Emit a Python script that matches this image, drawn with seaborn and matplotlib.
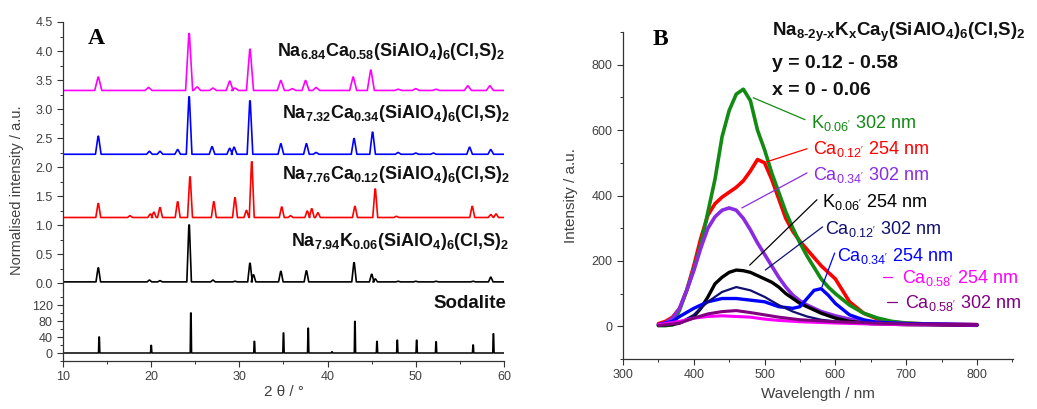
import numpy as np
import pandas as pd
import matplotlib
matplotlib.use("Agg")
import matplotlib.pyplot as plt
import seaborn as sns
from matplotlib.ticker import MultipleLocator

# ---------------- data: XRD (panel A) ----------------
two_theta_range = [10, 60]

mag_pos = [14.0, 19.7, 24.3, 25.2, 27.0, 28.9, 29.5, 31.2, 34.7, 36.0, 37.5, 38.7, 42.9, 44.9, 48.0, 50.0, 52.3, 55.9, 58.4]
mag_top = [3.55, 3.37, 4.30, 3.38, 3.36, 3.48, 3.36, 4.03, 3.49, 3.35, 3.49, 3.37, 3.55, 3.67, 3.34, 3.35, 3.34, 3.40, 3.40]
mag_base = 3.32

blu_pos = [14.0, 19.8, 21.0, 23.0, 24.3, 26.9, 28.9, 29.4, 31.2, 34.7, 37.6, 38.7, 43.0, 45.1, 48.0, 50.0, 52.0, 56.1, 58.5]
blu_top = [2.53, 2.27, 2.27, 2.30, 3.21, 2.35, 2.32, 2.34, 3.14, 2.40, 2.40, 2.25, 2.49, 2.60, 2.25, 2.24, 2.24, 2.34, 2.30]
blu_base = 2.22

red_pos = [14.0, 17.6, 19.9, 20.3, 21.0, 23.0, 24.4, 27.1, 29.5, 30.8, 31.4, 34.8, 35.8, 37.7, 38.2, 38.9, 43.1, 45.4, 47.8, 56.4, 58.5, 59.1]
red_top = [1.37, 1.16, 1.19, 1.22, 1.30, 1.40, 1.83, 1.40, 1.47, 1.25, 2.09, 1.31, 1.16, 1.24, 1.28, 1.21, 1.32, 1.62, 1.15, 1.32, 1.18, 1.19]
red_base = 1.13

blk_pos = [14.0, 19.8, 21.0, 24.3, 27.0, 29.5, 31.2, 31.6, 34.7, 37.6, 43.0, 45.0, 45.4, 48.0, 50.0, 52.3, 56.5, 58.5]
blk_top = [0.26, 0.05, 0.04, 1.00, 0.05, 0.03, 0.34, 0.14, 0.20, 0.21, 0.35, 0.15, 0.07, 0.03, 0.03, 0.03, 0.03, 0.10]
blk_base = 0.02

sod_pos = [14.1, 20.0, 24.5, 31.7, 35.0, 37.8, 40.5, 43.1, 45.6, 47.9, 50.1, 52.3, 56.5, 58.8]
sod_top = [40, 19, 100, 29, 50, 62, 3, 79, 29, 32, 32, 28, 20, 48]

xrd_labels = [r"Na$_{\mathbf{6.84}}$Ca$_{\mathbf{0.58}}$(SiAlO$_{\mathbf{4}}$)$_{\mathbf{6}}$(Cl,S)$_{\mathbf{2}}$",
              r"Na$_{\mathbf{7.32}}$Ca$_{\mathbf{0.34}}$(SiAlO$_{\mathbf{4}}$)$_{\mathbf{6}}$(Cl,S)$_{\mathbf{2}}$",
              r"Na$_{\mathbf{7.76}}$Ca$_{\mathbf{0.12}}$(SiAlO$_{\mathbf{4}}$)$_{\mathbf{6}}$(Cl,S)$_{\mathbf{2}}$",
              r"Na$_{\mathbf{7.94}}$K$_{\mathbf{0.06}}$(SiAlO$_{\mathbf{4}}$)$_{\mathbf{6}}$(Cl,S)$_{\mathbf{2}}$"]

# ---------------- data: PL spectra (panel B) ----------------
wl_green = [350, 360, 370, 380, 390, 400, 410, 420, 430, 440, 450, 460, 470, 480, 490, 500, 510, 520, 530, 540, 550, 560, 570, 580, 590, 600, 620, 640, 660, 680, 700, 750, 800]
k006_302 = [2, 2, 5, 50, 110, 175, 250, 350, 450, 580, 660, 710, 725, 690, 600, 540, 470, 410, 350, 300, 255, 215, 180, 145, 120, 100, 65, 40, 25, 15, 10, 5, 3]

wl_red = [350, 360, 370, 380, 390, 400, 410, 420, 430, 440, 450, 460, 470, 480, 490, 500, 510, 520, 530, 540, 550, 560, 570, 580, 590, 600, 610, 620, 640, 660, 680, 700, 750, 800]
ca012_254 = [8, 15, 28, 55, 110, 185, 270, 340, 375, 395, 410, 425, 445, 475, 510, 500, 450, 390, 330, 290, 260, 235, 210, 185, 165, 145, 110, 75, 40, 22, 13, 9, 6, 5]

wl_violet = [350, 360, 370, 380, 390, 400, 410, 420, 430, 440, 450, 460, 470, 480, 490, 500, 510, 520, 530, 540, 550, 560, 570, 580, 600, 620, 650, 700, 800]
ca034_302 = [5, 10, 25, 55, 110, 170, 240, 300, 335, 355, 362, 355, 330, 295, 255, 220, 185, 150, 120, 95, 78, 65, 55, 45, 32, 22, 13, 8, 5]

wl_black = [350, 370, 380, 400, 410, 420, 430, 440, 450, 460, 470, 480, 490, 500, 510, 520, 530, 540, 550, 560, 570, 580, 600, 620, 650, 700, 800]
k006_254 = [3, 5, 10, 30, 55, 90, 130, 150, 165, 172, 170, 165, 155, 145, 135, 120, 100, 85, 70, 60, 50, 40, 25, 15, 8, 5, 3]

wl_navy = [350, 380, 400, 420, 440, 460, 480, 500, 520, 540, 560, 580, 600, 650, 700, 800]
ca012_302 = [2, 10, 35, 75, 105, 120, 110, 90, 65, 45, 30, 20, 15, 8, 5, 3]

wl_blue = [350, 370, 380, 400, 420, 440, 460, 480, 500, 520, 540, 550, 560, 570, 580, 590, 600, 620, 640, 660, 700, 800]
ca034_254 = [5, 15, 30, 55, 75, 85, 85, 80, 75, 60, 55, 60, 85, 110, 115, 95, 70, 35, 20, 12, 8, 5]

wl_mag = [350, 380, 400, 420, 440, 460, 480, 500, 520, 550, 600, 650, 700, 800]
ca058_254 = [5, 15, 25, 30, 32, 30, 28, 22, 18, 14, 10, 7, 5, 4]

wl_pur = [350, 380, 400, 420, 440, 460, 480, 500, 520, 550, 600, 650, 700, 800]
ca058_302 = [2, 10, 25, 38, 45, 48, 42, 35, 28, 20, 14, 10, 7, 5]

pl_labels = [r"K$_{0.06'}$ 302 nm", r"Ca$_{0.12'}$ 254 nm", r"Ca$_{0.34'}$ 302 nm", r"K$_{0.06'}$ 254 nm",
             r"Ca$_{0.12'}$ 302 nm", r"Ca$_{0.34'}$ 254 nm", r"Ca$_{0.58'}$ 254 nm", r"Ca$_{0.58'}$ 302 nm"]

# ---------------- style ----------------
sns.set_theme(style="ticks")
plt.rcParams["font.family"] = ["Liberation Sans", "DejaVu Sans"]
plt.rcParams.update({
    "mathtext.fontset": "custom",
    "mathtext.rm": "Liberation Sans",
    "mathtext.it": "Liberation Sans:italic",
    "mathtext.bf": "Liberation Sans:bold",
    "axes.edgecolor": "#333333",
    "xtick.color": "#333333",
    "ytick.color": "#333333",
    "axes.linewidth": 0.9,
})
TXT = "#404040"

C_GREEN, C_RED, C_VIOLET, C_BLACK = "#138a13", "#ff0000", "#8a2be2", "#000000"
C_NAVY, C_BLUE, C_MAG, C_PUR = "#101070", "#0000ff", "#ff00ff", "#800080"

W, H = 1037, 409
fig = plt.figure(figsize=(W / 100, H / 100), dpi=100)

def fr(l, t, r, b):
    return [l / W, 1 - b / H, (r - l) / W, (b - t) / H]

axA = fig.add_axes(fr(63, 22, 504, 290))
axS = fig.add_axes(fr(63, 290, 504, 361))
axB = fig.add_axes(fr(623, 32, 1013, 359))


def spikes(pos, top, base, w):
    xs, ys = [two_theta_range[0]], [base]
    for p, t in sorted(zip(pos, top)):
        xs += [p - w, p - 0.03, p + 0.03, p + w]
        ys += [base, t, t, base]
    xs.append(two_theta_range[1])
    ys.append(base)
    return np.array(xs), np.array(ys)


for pos, top, base, col, w in [(mag_pos, mag_top, mag_base, C_MAG, 0.40),
                               (blu_pos, blu_top, blu_base, C_BLUE, 0.32),
                               (red_pos, red_top, red_base, C_RED, 0.28),
                               (blk_pos, blk_top, blk_base, "black", 0.26)]:
    xs, ys = spikes(pos, top, base, w)
    sns.lineplot(x=xs, y=ys, ax=axA, color=col, linewidth=1.2, sort=False, estimator=None)

xs, ys = spikes(sod_pos, sod_top, 0, 0.08)
sns.lineplot(x=xs, y=ys, ax=axS, color="black", linewidth=1.1, sort=False, estimator=None)

for ax in (axA, axS):
    ax.set_xlim(two_theta_range)
    ax.spines["right"].set_visible(False)
    ax.spines["top"].set_visible(False)
    ax.tick_params(which="major", direction="out", length=4, width=0.8, labelsize=9, labelcolor=TXT)
    ax.tick_params(which="minor", direction="out", length=2, width=0.7)

axA.set_ylim(-0.12, 4.5)
axA.spines["bottom"].set_visible(False)
axA.tick_params(axis="x", which="both", bottom=False, labelbottom=False)
axA.yaxis.set_major_locator(MultipleLocator(0.5))
axA.yaxis.set_minor_locator(MultipleLocator(0.25))
axA.yaxis.set_major_formatter(matplotlib.ticker.FormatStrFormatter("%.1f"))

axS.set_ylim(-20, 157.5)
axS.set_yticks([0, 40, 80, 120])
axS.yaxis.set_minor_locator(MultipleLocator(20))
axS.xaxis.set_major_locator(MultipleLocator(10))
axS.xaxis.set_minor_locator(MultipleLocator(5))
axS.set_xlabel("2 θ / °", fontsize=11, color=TXT, labelpad=1)
axA.set_ylabel("")
axS.set_ylabel("")
fig.text(17 / W, 1 - 190 / H, "Normalised intensity / a.u.", rotation=90, fontsize=10.5,
         color=TXT, ha="center", va="center")

label_y = [3.91, 2.84, 1.80, 0.63]
label_x = [60.2, 60.7, 60.7, 60.6]
for lab, lx, ly in zip(xrd_labels, label_x, label_y):
    axA.text(lx, ly, lab, ha="right", va="baseline", fontsize=13, fontweight="bold", color="#111111")
axS.text(60.3, 112, "Sodalite", ha="right", va="baseline", fontsize=13.5, fontweight="bold", color="#111111")
axA.text(12.8, 4.12, "A", fontsize=17, fontweight="bold", family="Liberation Serif", color="black", va="baseline")

# ---------------- panel B ----------------
series = [(wl_red, ca012_254, C_RED, 2.6), (wl_green, k006_302, C_GREEN, 2.6),
          (wl_violet, ca034_302, C_VIOLET, 2.6), (wl_black, k006_254, C_BLACK, 2.4),
          (wl_blue, ca034_254, C_BLUE, 2.4), (wl_navy, ca012_302, C_NAVY, 1.6),
          (wl_mag, ca058_254, C_MAG, 2.2), (wl_pur, ca058_302, C_PUR, 2.2)]
for wl, val, col, lw in series:
    sns.lineplot(x=wl, y=val, ax=axB, color=col, linewidth=lw, estimator=None)

axB.set_xlim(300, 851)
axB.set_ylim(-100, 900)
axB.xaxis.set_major_locator(MultipleLocator(100))
axB.xaxis.set_minor_locator(MultipleLocator(50))
axB.set_yticks([0, 200, 400, 600, 800])
axB.yaxis.set_minor_locator(MultipleLocator(100))
axB.spines["right"].set_visible(False)
axB.spines["top"].set_visible(False)
axB.tick_params(which="major", direction="out", length=4, width=0.8, labelsize=9, labelcolor=TXT)
axB.tick_params(which="minor", direction="out", length=2, width=0.7)
axB.set_xlabel("Wavelength / nm", fontsize=11, color=TXT, labelpad=4)
axB.set_ylabel("Intensity / a.u.", fontsize=11, color=TXT, labelpad=10)

axB.text(342, 859, "B", fontsize=17, fontweight="bold", family="Liberation Serif", color="black", va="baseline")
axB.text(510, 887, "Na$_{\\mathbf{8\u20102y\u2010x}}$K$_{\\mathbf{x}}$Ca$_{\\mathbf{y}}$(SiAlO$_{\\mathbf{4}}$)$_{\\mathbf{6}}$(Cl,S)$_{\\mathbf{2}}$",
         fontsize=13.5, fontweight="bold", color="#111111", va="baseline", clip_on=False)
axB.text(510, 790, "y = 0.12 - 0.58", fontsize=14, fontweight="bold", color="#111111", va="baseline")
axB.text(510, 706, "x = 0 - 0.06", fontsize=14, fontweight="bold", color="#111111", va="baseline")

# label text positions and leader lines
lab_pos = [(565, 607), (568, 528), (568, 448), (581, 365), (585, 282), (602, 199), (694, 132), (698, 55)]
lab_cols = [C_GREEN, C_RED, C_VIOLET, C_BLACK, C_NAVY, C_BLUE, C_MAG, C_PUR]
leaders = [((484, 699), (557, 632)), ((503, 503), (560, 543)), ((468, 362), (560, 469)),
           ((479, 187), (574, 387)), ((501, 172), (582, 304)), ((581, 120), (599, 224)),
           ((667, 150), (680, 150)), ((673, 74), (687, 74))]
for lab, (lx, ly), col, (p0, p1) in zip(pl_labels, lab_pos, lab_cols, leaders):
    axB.text(lx, ly, lab, color=col, fontsize=13, va="baseline", ha="left", clip_on=False)
    axB.plot([p0[0], p1[0]], [p0[1], p1[1]], color=col, linewidth=0.9, clip_on=False)

fig.savefig("out.png", dpi=100)
